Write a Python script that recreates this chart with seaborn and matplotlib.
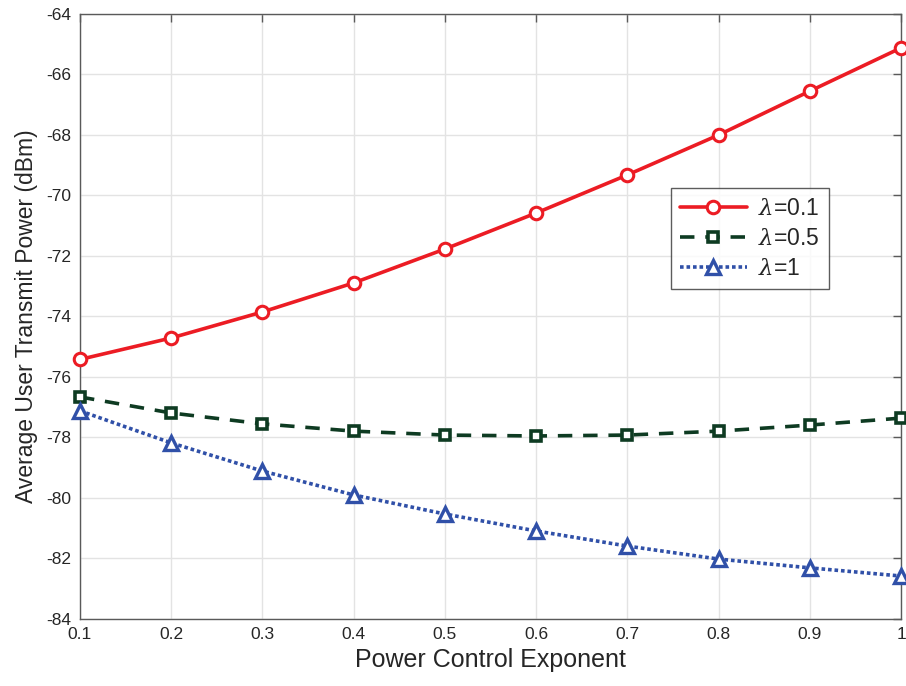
import matplotlib
matplotlib.use("Agg")
import matplotlib.pyplot as plt
import seaborn as sns
import pandas as pd
import numpy as np

x = [0.1, 0.2, 0.3, 0.4, 0.5, 0.6, 0.7, 0.8, 0.9, 1.0]
lam01 = [-75.42, -74.71, -73.85, -72.89, -71.77, -70.58, -69.32, -68.00, -66.55, -65.12]
lam05 = [-76.66, -77.19, -77.55, -77.79, -77.92, -77.95, -77.92, -77.79, -77.59, -77.36]
lam1 = [-77.12, -78.18, -79.11, -79.90, -80.53, -81.09, -81.59, -82.02, -82.31, -82.58]
labels = [r"$\lambda$=0.1", r"$\lambda$=0.5", r"$\lambda$=1"]
yticks = [-64, -66, -68, -70, -72, -74, -76, -78, -80, -82, -84]
xticks = [0.1, 0.2, 0.3, 0.4, 0.5, 0.6, 0.7, 0.8, 0.9, 1.0]
xticklabels = ["0.1", "0.2", "0.3", "0.4", "0.5", "0.6", "0.7", "0.8", "0.9", "1"]

sns.set_style("white")
plt.rcParams['font.family'] = ['Liberation Sans', 'DejaVu Sans']
plt.rcParams['mathtext.fontset'] = 'dejavuserif'
plt.rcParams['axes.unicode_minus'] = False

fig = plt.figure(figsize=(9.06, 6.86), dpi=100)
ax = fig.add_axes([0.0883, 0.0977, 0.9062, 0.8819])

styles = [
    dict(color="#EC1C24", marker="o", ls="-", ms=9, mew=2.2),
    dict(color="#0E3B22", marker="s", ls=(0, (4, 3)), ms=7.5, mew=2.6),
    dict(color="#3050A8", marker="^", ls=(0, (1, 0.8)), ms=9.5, mew=2.4),
]
for ys, lab, st in zip([lam01, lam05, lam1], labels, styles):
    df = pd.DataFrame({"x": x, "y": ys})
    sns.lineplot(data=df, x="x", y="y", ax=ax, color=st["color"], label=lab,
                 marker=st["marker"], markersize=st["ms"], markeredgewidth=st["mew"],
                 markerfacecolor="white", markeredgecolor=st["color"],
                 linestyle=st["ls"], linewidth=2.6, clip_on=False, zorder=3)

ax.set_xlim(0.1, 1.0)
ax.set_ylim(-84, -64)
ax.set_xticks(xticks)
ax.set_xticklabels(xticklabels)
ax.set_yticks(yticks)
ax.grid(True, color="#e3e3e3", linewidth=1)
ax.tick_params(direction="in", length=6, width=1, colors="#5a5a5a", labelcolor="#262626",
               labelsize=12.5, top=True, right=True, pad=6)
for sp in ax.spines.values():
    sp.set_color("#5a5a5a")
    sp.set_linewidth(1)
ax.set_xlabel("Power Control Exponent", fontsize=18, color="#262626", labelpad=4)
ax.set_ylabel("Average User Transmit Power (dBm)", fontsize=16.5, color="#262626", labelpad=6)

leg = ax.legend(loc="upper left", bbox_to_anchor=(671/906, 1-188/686),
                bbox_transform=fig.transFigure, fontsize=16.5, frameon=True,
                fancybox=False, edgecolor="#333333", handlelength=2.9,
                borderpad=0.4, labelspacing=0.3, handletextpad=0.5, borderaxespad=0)
leg.get_frame().set_linewidth(1)
for t in leg.get_texts():
    t.set_color("#262626")

fig.savefig("out.png", dpi=100)
